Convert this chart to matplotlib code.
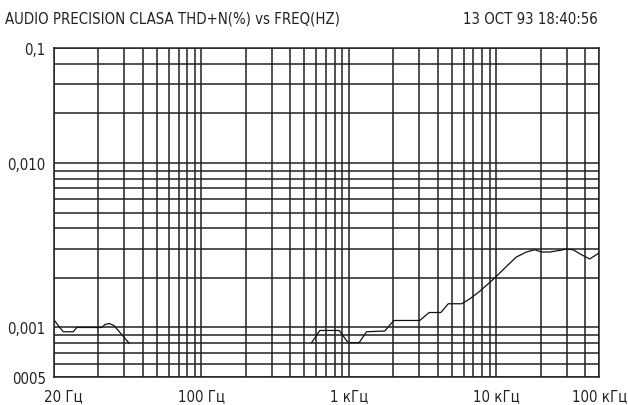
import numpy as np
import matplotlib
matplotlib.use('Agg')
import matplotlib.pyplot as plt
from matplotlib import font_manager

# Kurve, in zwei Stuecken (Luecke dazwischen)
freq_a = [10.16, 10.81, 11.56, 13.52, 14.25, 21.05, 22.2, 23.7, 25.5, 28.0, 32.4]
thd_a = [1.092e-3, 1.014e-3, 0.942e-3, 0.942e-3, 1.0e-3, 1.0e-3, 1.043e-3,
         1.057e-3, 1.028e-3, 0.933e-3, 0.80e-3]

freq_b = [558.6, 635.9, 859.5, 989, 1174, 1318, 1754, 2019, 3030, 3503, 4205,
          4727, 5836, 6612, 7729, 9768, 11728, 13706, 16020, 18239, 20251,
          23055, 26952, 29920, 33170, 37820, 43040, 49770]
thd_b = [0.808e-3, 0.959e-3, 0.959e-3, 0.808e-3, 0.808e-3, 0.942e-3, 0.952e-3,
         1.103e-3, 1.103e-3, 1.233e-3, 1.233e-3, 1.394e-3, 1.394e-3, 1.492e-3,
         1.660e-3, 2.001e-3, 2.352e-3, 2.683e-3, 2.876e-3, 2.970e-3, 2.876e-3,
         2.876e-3, 2.941e-3, 2.999e-3, 2.970e-3, 2.770e-3, 2.609e-3, 2.836e-3]

xticks = [11.6, 100, 1000, 10000, 50000]
xlabels = ['20 Гц', '100 Гц', '1 кГц', '10 кГц', '100 кГц']
yticks = [0.05, 0.01, 0.001, 0.0005]
ylabels = ['0,1', '0,010', '0,001', '0005']

title = 'AUDIO PRECISION CLASA THD+N(%) vs FREQ(HZ)'
datum = '13 OCT 93 18:40:56'

# schmale Schrift suchen, sonst Liberation Sans kleiner
schmal = []
for f in font_manager.fontManager.ttflist:
    s = (f.fname + ' ' + f.name)
    if ('Narrow' in s or 'Condensed' in s) and f.weight in (400, 'normal', 'regular') \
            and f.style == 'normal':
        schmal.append(f)
schmal.sort(key=lambda f: (0 if 'Liberation' in f.fname else 1 if 'DejaVu' in f.fname else 2))
if schmal:
    groesse = 12.5 if 'Liberation' in schmal[0].fname else 10.7
    fp = font_manager.FontProperties(fname=schmal[0].fname, size=groesse)
else:
    fp = font_manager.FontProperties(family=['Liberation Sans', 'DejaVu Sans'], size=10.4)

fig = plt.figure(figsize=(6.28, 4.06), dpi=100)
ax = fig.add_axes([54/628, 28/406, 545.3/628, 329/406])
ax.set_xscale('log')
ax.set_yscale('log')
ax.set_xlim(10, 50000)
ax.set_ylim(0.0005, 0.05)

# Gitterlinien
gc = '#222222'
gx = [m * 10**d for d in range(1, 5) for m in range(1, 10) if m * 10**d <= 50000]
gy = [m * 10.0**d for d in range(-4, -1) for m in range(1, 10)
      if 0.0005 <= m * 10.0**d <= 0.05]
for v in gx:
    ax.axvline(v, color=gc, lw=1.1, zorder=1)
for v in gy:
    ax.axhline(v, color=gc, lw=1.1, zorder=1)

ax.plot(freq_a, thd_a, color='#111111', lw=0.9, zorder=3)
ax.plot(freq_b, thd_b, color='#111111', lw=0.9, zorder=3)

for s in ax.spines.values():
    s.set_color(gc)
    s.set_linewidth(1.1)

ax.xaxis.set_minor_locator(matplotlib.ticker.NullLocator())
ax.yaxis.set_minor_locator(matplotlib.ticker.NullLocator())
ax.set_xticks(xticks)
ax.set_xticklabels(xlabels, fontproperties=fp, color='#222222')
ax.set_yticks(yticks)
ax.set_yticklabels(ylabels, fontproperties=fp, color='#222222')
ax.tick_params(axis='x', length=0, pad=8)
ax.tick_params(axis='y', length=0, pad=6)

fig.text(5/628, 1 - 19/406, title, fontproperties=fp, va='center', ha='left', color='#222222')
fig.text(598/628, 1 - 19/406, datum, fontproperties=fp, va='center', ha='right', color='#222222')

fig.savefig('out.png', dpi=100)
